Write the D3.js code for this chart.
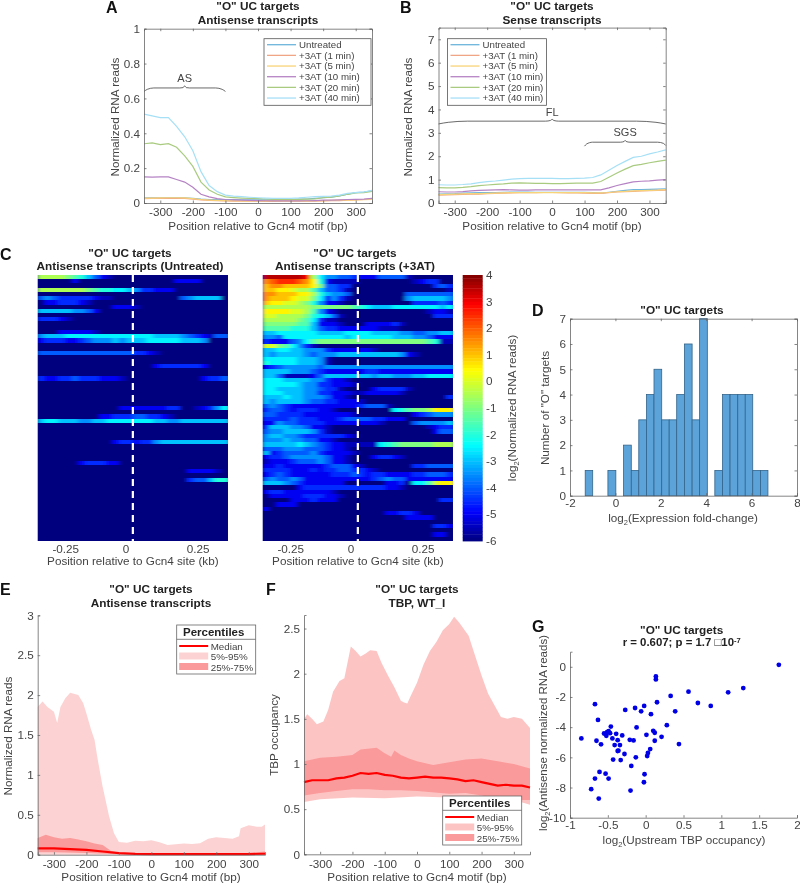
<!DOCTYPE html>
<html><head><meta charset="utf-8">
<script src="https://cdn.jsdelivr.net/npm/d3@7/dist/d3.min.js"></script>
<style>
html,body{margin:0;padding:0;background:#fff}
svg{display:block;filter:blur(0.5px)}
text{font-family:"Liberation Sans",Arial,sans-serif}
</style></head><body>
<svg id="c" width="800" height="884"></svg>
<script>
const positions=[-350,-325,-300,-275,-250,-225,-200,-175,-150,-125,-100,-75,-50,-25,0,25,50,75,100,125,150,175,200,225,250,275,300,325,350];
const xTicks=[-300,-200,-100,0,100,200,300];
const legendNames=["Untreated","+3AT (1 min)","+3AT (5 min)","+3AT (10 min)","+3AT (20 min)","+3AT (40 min)"];
const lineColors=["#6db5dc","#f0a584","#f8d479","#b583c4","#a9cb80","#a6e0f6"];

const asUntreated=[.03,.03,.029,.029,.03,.029,.026,.022,.02,.02,.02,.019,.018,.018,.018,.018,.018,.019,.02,.022,.023,.026,.03,.034,.04,.05,.06,.063,.07];
const as1=[.025,.026,.026,.027,.027,.026,.022,.018,.015,.013,.012,.011,.01,.01,.01,.009,.009,.01,.01,.01,.01,.011,.012,.013,.014,.016,.018,.02,.025];
const as5=[.028,.028,.029,.03,.03,.029,.025,.02,.017,.015,.014,.013,.012,.012,.012,.012,.012,.012,.012,.012,.012,.013,.014,.015,.016,.017,.018,.019,.02];
const as10=[.15,.148,.15,.15,.135,.12,.09,.05,.035,.025,.02,.018,.016,.015,.014,.013,.012,.012,.012,.012,.013,.014,.016,.017,.018,.02,.021,.022,.026];
const as20=[.34,.345,.335,.34,.32,.27,.21,.12,.075,.05,.035,.031,.028,.026,.025,.023,.021,.02,.02,.021,.022,.024,.03,.034,.04,.05,.058,.06,.066];
const as40=[.51,.50,.49,.49,.44,.38,.30,.18,.10,.065,.045,.04,.037,.033,.03,.028,.027,.027,.027,.029,.033,.037,.038,.04,.045,.055,.06,.063,.072];

const sUntreated=[.38,.39,.40,.42,.43,.44,.44,.45,.46,.47,.47,.47,.46,.46,.46,.46,.46,.46,.46,.44,.42,.46,.50,.54,.57,.57,.58,.59,.60];
const s1=[.34,.35,.36,.37,.38,.38,.40,.41,.42,.43,.44,.44,.44,.45,.45,.44,.43,.43,.42,.41,.41,.44,.47,.49,.50,.52,.53,.54,.55];
const s5=[.36,.37,.38,.39,.40,.40,.41,.42,.43,.44,.44,.44,.44,.44,.44,.44,.44,.44,.44,.43,.43,.45,.48,.50,.52,.53,.54,.55,.57];
const s10=[.48,.47,.47,.49,.52,.54,.55,.56,.57,.56,.55,.55,.56,.56,.56,.56,.56,.56,.56,.56,.56,.65,.75,.83,.90,.93,.95,.98,1.0];
const s20=[.66,.65,.65,.67,.70,.74,.77,.80,.82,.85,.86,.85,.84,.84,.83,.83,.84,.85,.85,.85,.92,1.1,1.28,1.45,1.6,1.65,1.72,1.78,1.83];
const s40=[.78,.77,.77,.79,.82,.87,.91,.94,.98,1.02,1.04,1.05,1.05,1.05,1.05,1.04,1.04,1.05,1.06,1.09,1.2,1.4,1.6,1.78,1.95,2.0,2.1,2.18,2.27];

const braceASx=[-350,-340,-320,-240,-230,-225,-220,-210,-130,-110,-100];
const braceASy=[.64,.652,.66,.66,.662,.672,.662,.66,.66,.652,.64];
const braceFLx=[-350,-320,-260,-20,-5,0,5,20,260,320,350];
const braceFLy=[3.38,3.45,3.5,3.5,3.53,3.58,3.53,3.5,3.5,3.45,3.38];
const braceSGSx=[100,106,125,210,222,225,228,240,325,343,350];
const braceSGSy=[2.43,2.52,2.6,2.6,2.63,2.68,2.63,2.6,2.6,2.55,2.46];

const heatUntreated=[
"llllkjigecb","aaaaacaaaaaaaaaaaaaacccc","","lllllllkjiihhgfddccc","","efedddddcbbaaaaaaaaaaefgggg","accdddcb","aaaaaaaaaaacccb","gggggffeca","","dddcb","","",
"aaacccccb","fggghhhhhhhhhhhhhggggfedcbee","cdddccdefffgfggghhhhhgggfa","","","eeeeeeeeeeeeeeddcb","","","aaaaaaaaaaaaaaaaacddddddc","","",
"dccddedddcccbaaaaaaaaaaacdde","","","","","","","aaaaaaaaaaaacccccccddaabcdfhiij","","aaaaaaaaaccdddeeddcb",
"ghhgggffgghhhhhhhggffggggggg","","","","","aaaaaaaaaaacddcddfggggggggggh","","","","","aaaaaacdddcca","","aaaaaaaaaaaaaaaaaaaaaaccccb","","aaaaaaaaaaaaaaaaaaaaaadeegiik",
"","","","","","","","","","","","","",""];
const heat3AT=[
"ttttttslhffeedccceeeeba","pqrrrqpnicbbbbaaaaaaaabcdd","oppoooonkeeddaaaaaaaaaaaadedc","oonnmlljgeedbaaaaaaaaaaaaaab","ppooonnligffeaaaaaaaaeeeeeee","pooonmmkhdfdbaaaaaaaafgggggfg","onnmmlkifccbaaaaaaaaaaddddeda",
"lllllllkkkkkkjihggghhhhhhhgh","nnnnmmljfcbaaaaaaaaaaaaabccb","mmllllkihgebaaaaaaaaaaaaaddd","lllllkjhdbbaaaaaaaaaaaaaaaaa","kkkkkjjgcccbaaaccccdbaaaaaaa","jjjjiiigeddccccccbbbaaaaaaaa",
"gghhhhhhgggghhhhggggffeeffgggg","ffehhhhhhhhhghhhhhhgggffeccc","dcccefhjkkkkkkkkkkkkkkkkjibb","mmkjhfdbaaaaaaaaaaaaaaaaaaaa","gghhggfffdccccccbaaaaaaaaaaa","gfggggfefffgggggggggfcbaaaaa",
"hhhhhgggfbaaaaaaaaaaaaaaaaaa","ihhhhgggfbaaaaaaaaaaaaaaaaaa","cdefffffefffffffffffffffffff","ggggfffedccccccddccccccccccc","ggebbbbcegggggggfggfffgghhhh","hhhggggffdccbaaaaaaaaaaaaaaa",
"hhhhhgffddcccbaaaaaaaaaaaaaa","hhggggffeddbaaaacddddbaaaaaa","hhhgggffddcccbbcccccbaaaaaaa","ggghggfffeccbaaaaaaaaaaaaaad","gfggggfeeddcccbaaaaaaaaaaaaa","efedccccccccccdeeebaaaaaaaaa",
"deedcdddccbaaaaaaaahijkklnnn","eeddddcccccccbaaaaaaaacdefff","ddddedddcccdeeeeddcccaaaaaaa","ccfeeddddccccccccbaaaaeffffgg","dgggffeccbaaaaaaaaaaaaaabcdd","effggggfdbaaaaaaaaaaaaaaacee",
"fggffeddddddcbaaaaaaaaaaaaaa","fffgffeeccbaaaaaaaaaaaaaaaaa","ggggghgfedccbbbbbhijkkkkklll","eeefffeeedccbaaaaaaaaaaaaaaa","gcdeeeefdccccbaaaaaaaaaaaaaa","cddefffffeccbaaacddcbaaaaaaa",
"bcccdeeefeccbaaaaaaaaaaaaaaa","ccdccccccdeeecbaaaaaaaddeeee","ddddcccdcddeeddcbaaaaaaaaaaa","cdedccccccdddedcddccccddeeed","efeefeccccccccccdefeeccccccc","gggfedccccccaaaaaaccdahhjmnn",
"aaaaacddddddddddddccbaaaaaaa","cddcccccccbaaaaaaaaaaaaaaaaa","acccccdddccbaaaaaaaaaaaaaaaa","aaaacccdcccaaaaaaaaaaaaaaadd","aaccca","caaaa","aaaaaaaaaaaaaaaaaaccddc","aaaaaaaaaaaaaaaaaaaaacccc","",
"aaaaaaaaaaaaaaaaaaaaaaaaaddc","","aaaaaaaaaaaaaaaaaaaaaaaaacc",""];
const heatColumns=d3.range(28);
const colorbarTicks=[4,3,2,1,0,-1,-2,-3,-4,-5,-6];

const histEdges=[-1.33,-1,-.66,-.33,.02,.36,.7,1.03,1.37,1.7,2.04,2.37,2.7,3.04,3.38,3.71,4.05,4.38,4.72,5.05,5.39,5.72,6.05,6.39,6.72];
const histCounts=[1,0,0,1,0,2,1,3,4,5,3,3,4,6,3,7,0,1,4,4,4,4,1,1];

const e95x=[-350,-335,-320,-300,-290,-280,-265,-250,-225,-210,-200,-185,-175,-165,-150,-130,-115,-100,-75,-50,-25,0,25,50,75,100,125,150,175,200,225,250,270,275,300,325,340,350];
const e95y=[1.855,1.92,1.85,1.79,1.65,1.85,1.96,2.03,2.0,1.9,1.77,1.56,1.44,1.19,.85,.48,.27,.16,.15,.175,.17,.18,.155,.12,.13,.14,.135,.145,.2,.22,.21,.2,.23,.33,.37,.35,.35,.38];
const e5x=[-350,350];
const e5y=[0,0];
const e75x=[-350,-325,-300,-275,-250,-225,-200,-175,-150,-125,-100,-75,-50,0,100,200,300,350];
const e75y=[.21,.25,.22,.2,.21,.19,.17,.14,.12,.05,.025,.02,.015,.012,.012,.015,.02,.04];
const e25x=[-350,-300,-200,-100,0,350];
const e25y=[.03,.03,.02,.005,0,0];
const eMedx=[-350,-300,-250,-200,-150,-100,-50,0,100,200,300,350];
const eMedy=[.08,.08,.07,.06,.04,.02,.01,.008,.008,.008,.008,.012];

const f95x=[-350,-340,-325,-310,-290,-275,-260,-240,-225,-205,-190,-175,-160,-145,-125,-110,-90,-70,-50,-40,-30,-20,0,20,40,60,80,100,115,130,160,180,200,220,240,260,280,300,325,350];
const f95y=[1.5,1.55,1.5,1.44,1.47,1.6,1.8,1.92,1.95,2.3,2.25,2.19,2.22,2.26,2.25,2.12,1.98,1.85,1.7,1.68,1.67,1.75,1.9,2.1,2.25,2.35,2.48,2.55,2.63,2.57,2.42,2.2,1.98,1.78,1.65,1.52,1.5,1.52,1.5,1.4];
const f5x=[-350,-300,-200,-100,0,100,200,300,350];
const f5y=[.58,.61,.63,.62,.64,.63,.63,.6,.55];
const f75x=[-350,-300,-250,-200,-175,-125,-100,-80,-70,-50,-25,0,50,100,150,200,250,300,350];
const f75y=[1.03,1.07,1.08,1.1,1.16,1.18,1.12,1.08,1.15,1.1,1.06,1.03,.99,1.02,1.05,1.06,1.03,1.0,.95];
const f25x=[-350,-300,-250,-200,-150,-100,-50,0,100,150,200,250,300,350];
const f25y=[.65,.68,.7,.72,.72,.71,.71,.7,.67,.68,.65,.62,.6,.6];
const fMed=[.8,.82,.82,.82,.84,.85,.87,.9,.89,.9,.88,.87,.85,.84,.85,.86,.85,.85,.84,.83,.81,.82,.8,.78,.76,.77,.76,.76,.74];

const scatterX=[1.76,.135,.135,.566,1.09,1.29,.33,.69,.86,.15,-.67,-.27,-.14,-.02,-.06,.07,.39,-.63,-.12,.28,-.46,.10,.12,.01,.21,-.85,-.55,-.51,-.49,-.47,-.52,-.39,-.31,-.44,-.37,-.21,-.16,.12,.44,-.65,-.59,-.41,-.34,.06,-.36,-.37,-.28,.03,.02,-.13,-.43,-.33,-.19,-.61,-.53,-.015,-.67,-.49,-.023,-.72,-.20,-.62];
const scatterY=[.13,-.64,-.84,-1.65,-1.69,-1.41,-1.93,-2.40,-2.59,-2.35,-2.48,-2.86,-2.73,-2.59,-2.95,-3.14,-2.95,-3.52,-4.02,-3.87,-3.96,-4.24,-4.37,-4.51,-4.64,-4.75,-4.42,-4.33,-4.26,-4.40,-4.57,-4.44,-4.55,-4.75,-4.86,-4.84,-4.88,-4.90,-5.12,-4.90,-5.14,-5.19,-5.19,-5.45,-5.56,-5.58,-5.78,-5.71,-5.91,-6.0,-6.15,-6.18,-6.57,-6.97,-7.08,-7.12,-7.41,-7.41,-7.65,-8.11,-8.20,-8.73];

const svg=d3.select("#c");
const AX="#666",TX="#444",FS=11.7;
function T(x,y,s,o={}){
  const t=svg.append("text").attr("x",x).attr("y",y).attr("font-size",o.size||FS)
    .attr("fill",o.fill||TX).attr("text-anchor",o.anchor||"middle").text(s);
  if(o.bold)t.attr("font-weight","bold");
  if(o.rot!==undefined)t.attr("transform",`rotate(${o.rot} ${x} ${y})`);
  return t;
}
function title(x,y,lines){lines.forEach((l,i)=>T(x,y[i],l,{bold:true,fill:"#222",size:11.8}));}
function panel(x,y,s){T(x,y,s,{bold:true,size:16,fill:"#111",anchor:"start"});}
function axes(x,y,xt,yt,box,pad=5){
  const [x0,x1]=x.range(),[y0,y1]=y.range();
  const gx=svg.append("g").attr("transform",`translate(0,${y0})`).call(d3.axisBottom(x).tickValues(xt).tickSize(-2.5).tickPadding(pad).tickFormat(d=>String(d)));
  const gy=svg.append("g").attr("transform",`translate(${x0},0)`).call(d3.axisLeft(y).tickValues(yt).tickSize(-2.5).tickPadding(4).tickFormat(d=>String(d)));
  [gx,gy].forEach(g=>{g.selectAll("path,line").attr("stroke",AX).attr("stroke-width",.8);g.selectAll("text").attr("fill",TX).attr("font-size",FS).attr("font-family",'"Liberation Sans",Arial,sans-serif');});
  if(box){
    svg.append("g").attr("transform",`translate(0,${y1})`).call(d3.axisTop(x).tickValues(xt).tickSize(-2.5).tickFormat(""))
      .selectAll("path,line").attr("stroke",AX).attr("stroke-width",.8);
    svg.append("g").attr("transform",`translate(${x1},0)`).call(d3.axisRight(y).tickValues(yt).tickSize(-2.5).tickFormat(""))
      .selectAll("path,line").attr("stroke",AX).attr("stroke-width",.8);
  }
}
function lineLegend(bx,by,bw,bh){
  svg.append("rect").attr("x",bx).attr("y",by).attr("width",bw).attr("height",bh).attr("fill","#fff").attr("stroke","#555").attr("stroke-width",.8);
  legendNames.forEach((n,i)=>{
    const yy=by+6+i*10.67;
    svg.append("line").attr("x1",bx+3).attr("x2",bx+32).attr("y1",yy).attr("y2",yy).attr("stroke",lineColors[i]).attr("stroke-width",1.3);
    T(bx+35,yy+3.4,n,{anchor:"start",size:9.7});
  });
}
function traces(x,y,series){
  const ln=d3.line().x((d,i)=>x(positions[i])).y(d=>y(d));
  series.forEach((s,i)=>svg.append("path").attr("d",ln(s)).attr("fill","none").attr("stroke",lineColors[i]).attr("stroke-width",1.2));
}
function brace(x,y,xs,ys){
  svg.append("path").attr("d",d3.line().x(d=>x(d[0])).y(d=>y(d[1])).curve(d3.curveMonotoneX)(xs.map((v,i)=>[v,ys[i]]))).attr("fill","none").attr("stroke","#444").attr("stroke-width",.8);
}

/* A */
{
  const x=d3.scaleLinear().domain([-350,350]).range([144,372]),y=d3.scaleLinear().domain([0,1]).range([203,28.7]);
  traces(x,y,[asUntreated,as1,as5,as10,as20,as40]);
  brace(x,y,braceASx,braceASy);
  T(x(-225),y(.697),"AS",{size:11});
  axes(x,y,xTicks,[0,.2,.4,.6,.8,1],true);
  lineLegend(264,38.7,107,66.6);
  title(258,[9.5,23.5],['"O" UC targets','Antisense transcripts']);
  T(258,230,"Position relative to Gcn4 motif (bp)");
  T(119,117,"Normalized RNA reads",{rot:-90});
  panel(106,13,"A");
}
/* B */
{
  const x=d3.scaleLinear().domain([-350,350]).range([438.5,665.7]),y=d3.scaleLinear().domain([0,7.5]).range([203,27.6]);
  traces(x,y,[sUntreated,s1,s5,s10,s20,s40]);
  brace(x,y,braceFLx,braceFLy);
  brace(x,y,braceSGSx,braceSGSy);
  T(x(0),y(3.72),"FL",{size:11});
  T(x(225),y(2.86),"SGS",{size:11});
  axes(x,y,xTicks,[0,1,2,3,4,5,6,7],true);
  lineLegend(447.5,38.7,99,66.6);
  title(552,[9.5,23.5],['"O" UC targets','Sense transcripts']);
  T(552,230,"Position relative to Gcn4 motif (bp)");
  T(412,117,"Normalized RNA reads",{rot:-90});
  panel(400,13,"B");
}
/* C */
const jet=d3.scaleLinear().domain([-6,-4.9,-2.4,.4,2.9,4]).range(["#00007f","#0000ff","#00ffff","#ffff00","#ff0000","#7f0000"]).clamp(true);
const levelChars="abcdefghijklmnopqrstu";
const defs=svg.append("defs");
defs.append("filter").attr("id","soft").attr("x","-5%").attr("y","-5%").attr("width","110%").attr("height","110%")
  .append("feGaussianBlur").attr("stdDeviation","2.2 0.7");
function heat(rows,x0,x1,titleX,titleL,id){
  const rowNames=d3.range(rows.length);
  const xb=d3.scaleBand().domain(heatColumns).range([x0,x1]);
  const yb=d3.scaleBand().domain(rowNames).range([275,541]);
  defs.append("clipPath").attr("id",id).append("rect").attr("x",x0).attr("y",275).attr("width",x1-x0).attr("height",266);
  const g=svg.append("g").attr("clip-path",`url(#${id})`).append("g").attr("filter","url(#soft)");
  g.append("rect").attr("x",x0-4).attr("y",271).attr("width",x1-x0+8).attr("height",274).attr("fill",jet(-6));
  rows.forEach((r,ri)=>{
    const s=r.padEnd(28,"a");
    heatColumns.forEach(c=>{
      const v=-6+levelChars.indexOf(s[c])*.5;
      g.append("rect").attr("x",xb(c)).attr("y",yb(ri)).attr("width",xb.bandwidth()+.5).attr("height",yb.bandwidth()+.5).attr("fill",jet(v)).attr("shape-rendering","crispEdges");
    });
  });
  const kb=d3.scaleLinear().domain([-.35,.35]).range([x0+1.5,x1-3.3]);
  const mid=(x0+x1)/2;
  svg.append("line").attr("x1",mid).attr("x2",mid).attr("y1",275).attr("y2",541).attr("stroke","#fff").attr("stroke-width",2.2).attr("stroke-dasharray","7,5");
  [-.25,0,.25].forEach(t=>T(kb(t)-(t===0?6:0),553,String(t)));
  T(mid,565,"Position relative to Gcn4 site (kb)");
  title(titleX,[257,270],['"O" UC targets',titleL]);
}
heat(heatUntreated,37.7,228,130,"Antisense transcripts (Untreated)","h1");
heat(heat3AT,262.7,453,355,"Antisense transcripts (+3AT)","h2");
{
  const cb=d3.scaleLinear().domain([4,-6]).range([275,541]);
  const steps=d3.range(4,-6,-.125);
  svg.append("g").selectAll("rect").data(steps).join("rect").attr("x",462.7).attr("width",20).attr("y",d=>cb(d)).attr("height",cb(3.875)-cb(4)+.4).attr("fill",d=>jet(d-.0625));
  colorbarTicks.forEach(t=>T(486,cb(t)+4,String(t),{anchor:"start"}));
  const l=T(516,408,"",{rot:-90});
  l.append("tspan").text("log");
  l.append("tspan").attr("font-size",7.5).attr("dy",2.5).text("2");
  l.append("tspan").attr("dy",-2.5).text("(Normalized RNA reads)");
  panel(0,260,"C");
}
/* D */
{
  const x=d3.scaleLinear().domain([-2,8]).range([570,797]),y=d3.scaleLinear().domain([0,7]).range([495.7,318.7]);
  svg.append("g").selectAll("rect").data(histCounts).join("rect")
    .attr("x",(d,i)=>x(histEdges[i])).attr("width",(d,i)=>x(histEdges[i+1])-x(histEdges[i]))
    .attr("y",d=>y(d)).attr("height",d=>y(0)-y(d)).attr("fill",d=>d?"#5ba3d9":"none").attr("stroke",d=>d?"#34648a":"none").attr("stroke-width",.8);
  axes(x,y,[-2,0,2,4,6,8],[0,1,2,3,4,5,6,7],true,3);
  title(682,[314],['"O" UC targets']);
  const l=T(683,522,"");
  l.append("tspan").text("log");
  l.append("tspan").attr("font-size",7.5).attr("dy",2.5).text("2");
  l.append("tspan").attr("dy",-2.5).text("(Expression fold-change)");
  T(549,408,'Number of "O" targets',{rot:-90});
  panel(532,316,"D");
}
/* E,F helpers */
function band(x,y,ux,uy,lx,ly,fill){
  const pts=ux.map((v,i)=>[v,uy[i]]).concat(lx.map((v,i)=>[v,ly[i]]).reverse());
  svg.append("path").attr("d",d3.line().x(d=>x(d[0])).y(d=>y(d[1]))(pts)+"Z").attr("fill",fill);
}
function pctLegend(bx,by,lightFill){
  svg.append("rect").attr("x",bx).attr("y",by).attr("width",79).attr("height",49).attr("fill","#fff").attr("stroke","#666").attr("stroke-width",.8);
  svg.append("line").attr("x1",bx).attr("x2",bx+79).attr("y1",by+14.3).attr("y2",by+14.3).attr("stroke","#666").attr("stroke-width",.8);
  T(bx+37,by+10.5,"Percentiles",{bold:true,fill:"#222",size:11.5});
  svg.append("line").attr("x1",bx+2.5).attr("x2",bx+31.5).attr("y1",by+21).attr("y2",by+21).attr("stroke","#f00").attr("stroke-width",2);
  svg.append("rect").attr("x",bx+2.5).attr("y",by+27.5).attr("width",29).attr("height",7).attr("fill",lightFill);
  svg.append("rect").attr("x",bx+2.5).attr("y",by+38).attr("width",29).attr("height",7).attr("fill","#fb9a9a");
  ["Median","5%-95%","25%-75%"].forEach((n,i)=>T(bx+34,by+24.5+i*10.7,n,{anchor:"start",size:9.8}));
}
/* E */
{
  const x=d3.scaleLinear().domain([-350,350]).range([37.7,265]),y=d3.scaleLinear().domain([0,3]).range([854.7,615.3]);
  band(x,y,e95x,e95y,e5x,e5y,"#fdd2d2");
  band(x,y,e75x,e75y,e25x,e25y,"#fb9a9a");
  svg.append("path").attr("d",d3.line().x((d,i)=>x(eMedx[i])).y(d=>y(d))(eMedy)).attr("fill","none").attr("stroke","#f00").attr("stroke-width",2.2);
  axes(x,y,xTicks,[0,.5,1,1.5,2,2.5,3],false);
  pctLegend(176.7,625,"#fdd2d2");
  title(151,[593,607],['"O" UC targets','Antisense transcripts']);
  T(151,881,"Position relative to Gcn4 motif (bp)");
  T(12,736,"Normalized RNA reads",{rot:-90});
  panel(0,595,"E");
}
/* F */
{
  const x=d3.scaleLinear().domain([-350,350]).range([304,530]),y=d3.scaleLinear().domain([0,2.65]).range([854.3,615]);
  band(x,y,f95x,f95y,f5x,f5y,"#fdc4c4");
  band(x,y,f75x,f75y,f25x,f25y,"#fb9a9a");
  svg.append("path").attr("d",d3.line().x((d,i)=>x(positions[i])).y(d=>y(d))(fMed)).attr("fill","none").attr("stroke","#f00").attr("stroke-width",2.2);
  axes(x,y,xTicks,[0,.5,1,1.5,2,2.5],false);
  pctLegend(442.7,796,"#fdc4c4");
  title(417,[593,607],['"O" UC targets','TBP, WT_I']);
  T(417,881,"Position relative to Gcn4 motif (bp)");
  T(278,735,"TBP occupancy",{rot:-90});
  panel(266,595,"F");
}
/* G */
{
  const x=d3.scaleLinear().domain([-1,2]).range([570,797]),y=d3.scaleLinear().domain([-10,1]).range([817.7,651.7]);
  svg.append("g").selectAll("circle").data(scatterX).join("circle").attr("cx",d=>x(d)).attr("cy",(d,i)=>y(scatterY[i])).attr("r",2.4).attr("fill","#0000e6");
  axes(x,y,[-1,-.5,0,.5,1,1.5,2],[-10,-8,-6,-4,-2,0],false,3);
  title(681.7,[634],['"O" UC targets']);
  const t=T(681.7,646,"",{bold:true,fill:"#222",size:11.4});
  t.append("tspan").text("r = 0.607; p = 1.7 \u25A110");
  t.append("tspan").attr("font-size",7.5).attr("dy",-3.5).text("-7");
  const l=T(684,844,"");
  l.append("tspan").text("log");
  l.append("tspan").attr("font-size",7.5).attr("dy",2.5).text("2");
  l.append("tspan").attr("dy",-2.5).text("(Upstream TBP occupancy)");
  const v=T(547,733,"",{rot:-90,size:11.5});
  v.append("tspan").text("log");
  v.append("tspan").attr("font-size",7.5).attr("dy",2.5).text("2");
  v.append("tspan").attr("dy",-2.5).text("(Antisense normalized RNA reads)");
  panel(532,632,"G");
}
</script>
</body></html>
